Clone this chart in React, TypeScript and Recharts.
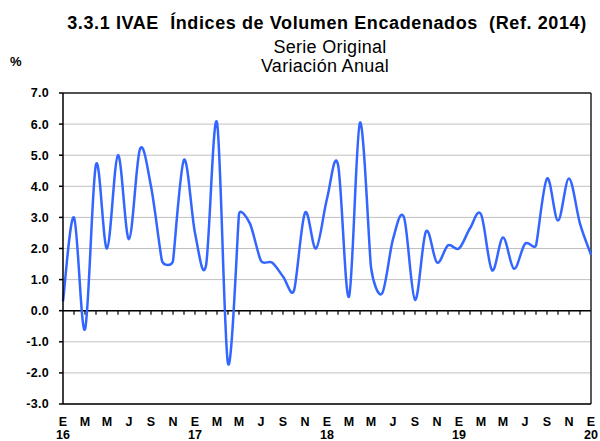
import { LineChart, Line, XAxis, YAxis, CartesianGrid, ReferenceLine } from 'recharts';

const monthInitials = ['E', 'F', 'M', 'A', 'M', 'J', 'J', 'A', 'S', 'O', 'N', 'D'];
const years = ['16', '17', '18', '19', '20'];

// variación anual (%), enero 2016 - enero 2020
const ivaeValues = [
  0.3, 3.0, -0.6, 4.7, 2.0, 5.0, 2.3, 5.2, 4.0, 1.6, 1.6, 4.85,
  2.5, 1.45, 6.05, -1.7, 3.1, 2.8, 1.6, 1.55, 1.1, 0.65, 3.15, 2.0,
  3.6, 4.7, 0.45, 6.05, 1.4, 0.55, 2.3, 3.0, 0.35, 2.55, 1.55, 2.1,
  2.0, 2.65, 3.1, 1.3, 2.35, 1.35, 2.15, 2.1, 4.25, 2.9, 4.25, 2.8,
  1.8,
];

const yTicks = [-3, -2, -1, 0, 1, 2, 3, 4, 5, 6, 7];

const data = ivaeValues.map((v, i) => ({
  i,
  month: monthInitials[i % 12],
  year: i % 12 === 0 ? years[i / 12] : '',
  value: v,
}));

const xTicks = data.filter((d) => d.i % 2 === 0).map((d) => d.i);
const zeroTicks = data.map((d) => d.i).filter((i) => i > 0 && i < data.length - 1);

// Excel-like smoothing: cardinal tangents, shortened near short segments
const excelSmooth = (context: any) => {
  let pts: number[][] = [];
  const dist = (a: number[], b: number[]) => Math.hypot(b[0] - a[0], b[1] - a[1]);
  const tangent = (pts: number[][], k: number) => {
    const p0 = pts[Math.max(k - 1, 0)];
    const p1 = pts[k];
    const p2 = pts[Math.min(k + 1, pts.length - 1)];
    const dx = p2[0] - p0[0];
    const dy = p2[1] - p0[1];
    const d02 = Math.hypot(dx, dy);
    if (d02 === 0) return [0, 0];
    const dmin = Math.min(dist(p0, p1) || Infinity, dist(p1, p2) || Infinity);
    let f = 1 / 6;
    if (d02 * f > dmin / 2) f = dmin / 2 / d02;
    return [dx * f, dy * f];
  };
  return {
    areaStart() {},
    areaEnd() {},
    lineStart() {
      pts = [];
    },
    point(x: number, y: number) {
      pts.push([+x, +y]);
    },
    lineEnd() {
      if (!pts.length) return;
      context.moveTo(pts[0][0], pts[0][1]);
      for (let k = 0; k < pts.length - 1; k++) {
        const t1 = tangent(pts, k);
        const t2 = tangent(pts, k + 1);
        const p1 = pts[k];
        const p2 = pts[k + 1];
        context.bezierCurveTo(p1[0] + t1[0], p1[1] + t1[1], p2[0] - t2[0], p2[1] - t2[1], p2[0], p2[1]);
      }
    },
  };
};

const FONT = '"Liberation Sans", Arial, sans-serif';

const MonthTick = ({ x, y, payload }: any) => {
  const d = data[payload.value];
  return (
    <g>
      <text x={x} y={y + 22} textAnchor="middle" fontFamily={FONT} fontWeight="bold" fontSize={12.5} fill="#000">
        {d.month}
      </text>
      {d.year && (
        <text x={x} y={y + 35} textAnchor="middle" fontFamily={FONT} fontWeight="bold" fontSize={12.5} fill="#000">
          {d.year}
        </text>
      )}
    </g>
  );
};

export default function App() {
  return (
    <div style={{ position: 'absolute', left: 0, top: 0, width: 600, height: 441, background: '#fff' }}>
      <svg width={600} height={90} style={{ position: 'absolute', left: 0, top: 0 }}>
        <text x={327} y={29} textAnchor="middle" fontFamily={FONT} fontWeight="bold" fontSize={18} letterSpacing={0.6} style={{ whiteSpace: 'pre' }}>
          {'3.3.1 IVAE  Índices de Volumen Encadenados  (Ref. 2014)'}
        </text>
        <text x={330} y={53} textAnchor="middle" fontFamily={FONT} fontSize={18} letterSpacing={0.3}>
          Serie Original
        </text>
        <text x={325} y={72} textAnchor="middle" fontFamily={FONT} fontSize={18} letterSpacing={0.3}>
          Variación Anual
        </text>
        <text x={10} y={66} fontFamily={FONT} fontWeight="bold" fontSize={13}>
          %
        </text>
      </svg>
      <LineChart
        width={600}
        height={441}
        data={data}
        margin={{ top: 93, right: 9, bottom: 0, left: 0 }}
        style={{ position: 'absolute', left: 0, top: 0 }}
      >
        <CartesianGrid vertical={false} stroke="#c0c0c0" strokeWidth={1} />
        <XAxis
          dataKey="i"
          type="number"
          domain={[0, data.length - 1]}
          ticks={xTicks}
          interval={0}
          height={37}
          tickLine={false}
          tickSize={0}
          tickMargin={0}
          axisLine={{ stroke: '#000', strokeWidth: 1.5 }}
          tick={<MonthTick />}
        />
        <YAxis
          type="number"
          domain={[-3, 7]}
          ticks={yTicks}
          interval={0}
          width={63}
          tickSize={4}
          tickMargin={10}
          tickFormatter={(v: number) => v.toFixed(1)}
          axisLine={{ stroke: '#000', strokeWidth: 1.5 }}
          tickLine={{ stroke: '#000', strokeWidth: 1.5 }}
          tick={{ fill: '#000', fontSize: 12.5, fontWeight: 'bold', fontFamily: FONT, letterSpacing: 0.3 }}
        />
        <ReferenceLine y={7} stroke="#222" strokeWidth={1.5} />
        <ReferenceLine x={data.length - 1} stroke="#222" strokeWidth={1.5} />
        <ReferenceLine y={0} stroke="#000" strokeWidth={1.5} />
        {zeroTicks.map((i) => (
          <ReferenceLine
            key={i}
            segment={[
              { x: i, y: 0 },
              { x: i, y: -0.13 },
            ]}
            stroke="#000"
            strokeWidth={1.2}
          />
        ))}
        <Line
          type={excelSmooth as any}
          dataKey="value"
          stroke="#3366ff"
          strokeWidth={2.5}
          dot={false}
          activeDot={false}
          isAnimationActive={false}
        />
      </LineChart>
    </div>
  );
}
